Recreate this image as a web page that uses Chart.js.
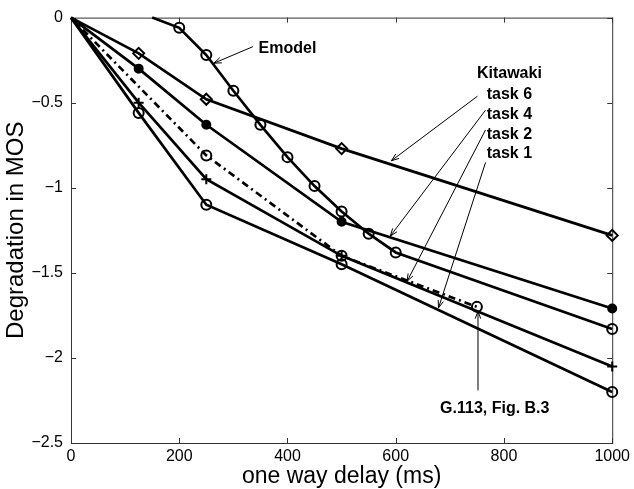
<!DOCTYPE html>
<html><head><meta charset="utf-8">
<script src="https://cdn.jsdelivr.net/npm/chart.js@4/dist/chart.umd.min.js"></script>
<style>html,body{margin:0;padding:0;background:#fff}#wrap{width:634px;height:489px}</style>
</head><body><div id="wrap"><canvas id="c" width="634" height="489"></canvas></div>
<script>
// ---- data ----
const xTicks = [0, 200, 400, 600, 800, 1000];
const yTicks = [0, -0.5, -1, -1.5, -2, -2.5];
const emodelX = [150, 200, 250, 300, 350, 400, 450, 500, 550, 600, 1000];
const emodelY = [0, -0.06, -0.22, -0.43, -0.63, -0.82, -0.99, -1.14, -1.27, -1.38, -1.83];
const kitX = [0, 125, 250, 500, 1000];
const task6 = [0, -0.21, -0.48, -0.77, -1.28];
const task4 = [0, -0.30, -0.63, -1.20, -1.71];
const task2 = [0, -0.50, -0.95, -1.40, -2.05];
const task1 = [0, -0.56, -1.10, -1.45, -2.20];
const g113X = [0, 250, 500, 750];
const g113Y = [0, -0.81, -1.40, -1.70];

// annotation texts (data coordinates)
const labelTexts = ['Emodel', 'Kitawaki', 'task 6', 'task 4', 'task 2', 'task 1', 'G.113, Fig. B.3'];
const labelX = [400, 810, 810, 810, 810, 810, 783];
const labelY = [-0.181, -0.330, -0.453, -0.569, -0.686, -0.802, -2.296];
// arrows: tail -> head (data coordinates)
const arrowX0 = [336, 751, 766, 766, 766, 752];
const arrowY0 = [-0.171, -0.462, -0.544, -0.660, -0.851, -2.191];
const arrowX1 = [264, 592, 590, 621, 679, 752];
const arrowY1 = [-0.268, -0.841, -1.284, -1.550, -1.706, -1.725];

const FONT = "'Liberation Sans', Arial, Helvetica, sans-serif";
const pts = (xs, ys) => xs.map((x, i) => ({x: x, y: ys[i]}));
const radii = (n, r, skipFirst) => Array.from({length: n}, (_, i) => (skipFirst && i === 0) ? 0 : r);

const base = {borderColor: '#000', borderWidth: 2.7, pointBorderColor: '#000', pointBorderWidth: 2,
  pointBackgroundColor: 'rgba(0,0,0,0)', clip: false, tension: 0, fill: false};

const datasets = [
  Object.assign({}, base, {label: 'Emodel', data: pts(emodelX, emodelY), pointStyle: 'circle', pointRadius: radii(emodelX.length, 5, true)}),
  Object.assign({}, base, {label: 'task 6', data: pts(kitX, task6), pointStyle: 'rectRot', pointRadius: radii(kitX.length, 5.5, true)}),
  Object.assign({}, base, {label: 'task 4', data: pts(kitX, task4), pointStyle: 'circle', pointBackgroundColor: '#000', pointRadius: radii(kitX.length, 4, true)}),
  Object.assign({}, base, {label: 'task 2', data: pts(kitX, task2), pointStyle: 'cross', pointRadius: radii(kitX.length, 5, true)}),
  Object.assign({}, base, {label: 'task 1', data: pts(kitX, task1), pointStyle: 'circle', pointRadius: radii(kitX.length, 5, true)}),
  Object.assign({}, base, {label: 'G.113', data: pts(g113X, g113Y), borderDash: [7, 4, 2, 4], pointStyle: 'circle', pointRadius: radii(g113X.length, 5, true)})
];

const framePlugin = {
  id: 'frame',
  beforeDatasetsDraw(chart) {
    const {ctx, chartArea: a, scales: {x, y}} = chart;
    ctx.save();
    ctx.strokeStyle = '#333';
    ctx.lineWidth = 1;
    ctx.strokeRect(a.left + 0.5, a.top + 0.5, a.right - a.left, a.bottom - a.top);
    ctx.beginPath();
    const tl = 5;
    xTicks.forEach(v => {
      const px = Math.round(x.getPixelForValue(v)) + 0.5;
      ctx.moveTo(px, a.bottom); ctx.lineTo(px, a.bottom - tl);
      ctx.moveTo(px, a.top); ctx.lineTo(px, a.top + tl);
    });
    yTicks.forEach(v => {
      const py = Math.round(y.getPixelForValue(v)) + 0.5;
      ctx.moveTo(a.left, py); ctx.lineTo(a.left + tl, py);
      ctx.moveTo(a.right, py); ctx.lineTo(a.right - tl, py);
    });
    ctx.stroke();
    ctx.restore();
  },
  afterDatasetsDraw(chart) {
    const {ctx, scales: {x, y}} = chart;
    ctx.save();
    ctx.strokeStyle = '#000';
    ctx.fillStyle = '#000';
    ctx.lineWidth = 1;
    arrowX0.forEach((_, i) => {
      const x0 = x.getPixelForValue(arrowX0[i]), y0 = y.getPixelForValue(arrowY0[i]);
      const x1 = x.getPixelForValue(arrowX1[i]), y1 = y.getPixelForValue(arrowY1[i]);
      const ang = Math.atan2(y1 - y0, x1 - x0);
      const h = 8, w = 0.35;
      ctx.beginPath();
      ctx.moveTo(x0, y0); ctx.lineTo(x1, y1);
      ctx.moveTo(x1 - h * Math.cos(ang - w), y1 - h * Math.sin(ang - w));
      ctx.lineTo(x1, y1);
      ctx.lineTo(x1 - h * Math.cos(ang + w), y1 - h * Math.sin(ang + w));
      ctx.stroke();
    });
    ctx.font = 'bold 16px ' + FONT;
    ctx.textAlign = 'center';
    ctx.textBaseline = 'middle';
    labelTexts.forEach((t, i) => {
      ctx.fillText(t, x.getPixelForValue(labelX[i]), y.getPixelForValue(labelY[i]));
    });
    ctx.restore();
  }
};

const fmt = v => (v < 0 ? '\u2212' + String(Math.abs(v)) : String(v));

new Chart(document.getElementById('c'), {
  type: 'line',
  data: {datasets: datasets},
  options: {
    responsive: false,
    devicePixelRatio: 1,
    animation: false,
    layout: {padding: {top: 14, right: 21, left: 0, bottom: 0}},
    plugins: {legend: {display: false}, tooltip: {enabled: false}},
    scales: {
      x: {
        type: 'linear', min: 0, max: 1000,
        afterBuildTicks: s => { s.ticks = xTicks.map(v => ({value: v})); },
        afterFit: s => { s.height = 46; },
        grid: {display: false, drawTicks: false}, border: {display: false},
        ticks: {color: '#000', font: {family: FONT, size: 16}, padding: 4, maxRotation: 0, callback: v => fmt(v)},
        title: {display: true, text: 'one way delay (ms)', color: '#000', font: {family: FONT, size: 23}, padding: {top: 0, bottom: -1}}
      },
      y: {
        type: 'linear', min: -2.5, max: 0,
        afterBuildTicks: s => { s.ticks = yTicks.map(v => ({value: v})); },
        afterFit: s => { s.width = 71; },
        grid: {display: false, drawTicks: false}, border: {display: false},
        ticks: {color: '#000', font: {family: FONT, size: 16}, padding: 8, callback: v => fmt(v)},
        title: {display: true, text: 'Degradation in MOS', color: '#000', font: {family: FONT, size: 24}, padding: {top: 2, bottom: 0}}
      }
    }
  },
  plugins: [framePlugin]
});
</script>
</body></html>
